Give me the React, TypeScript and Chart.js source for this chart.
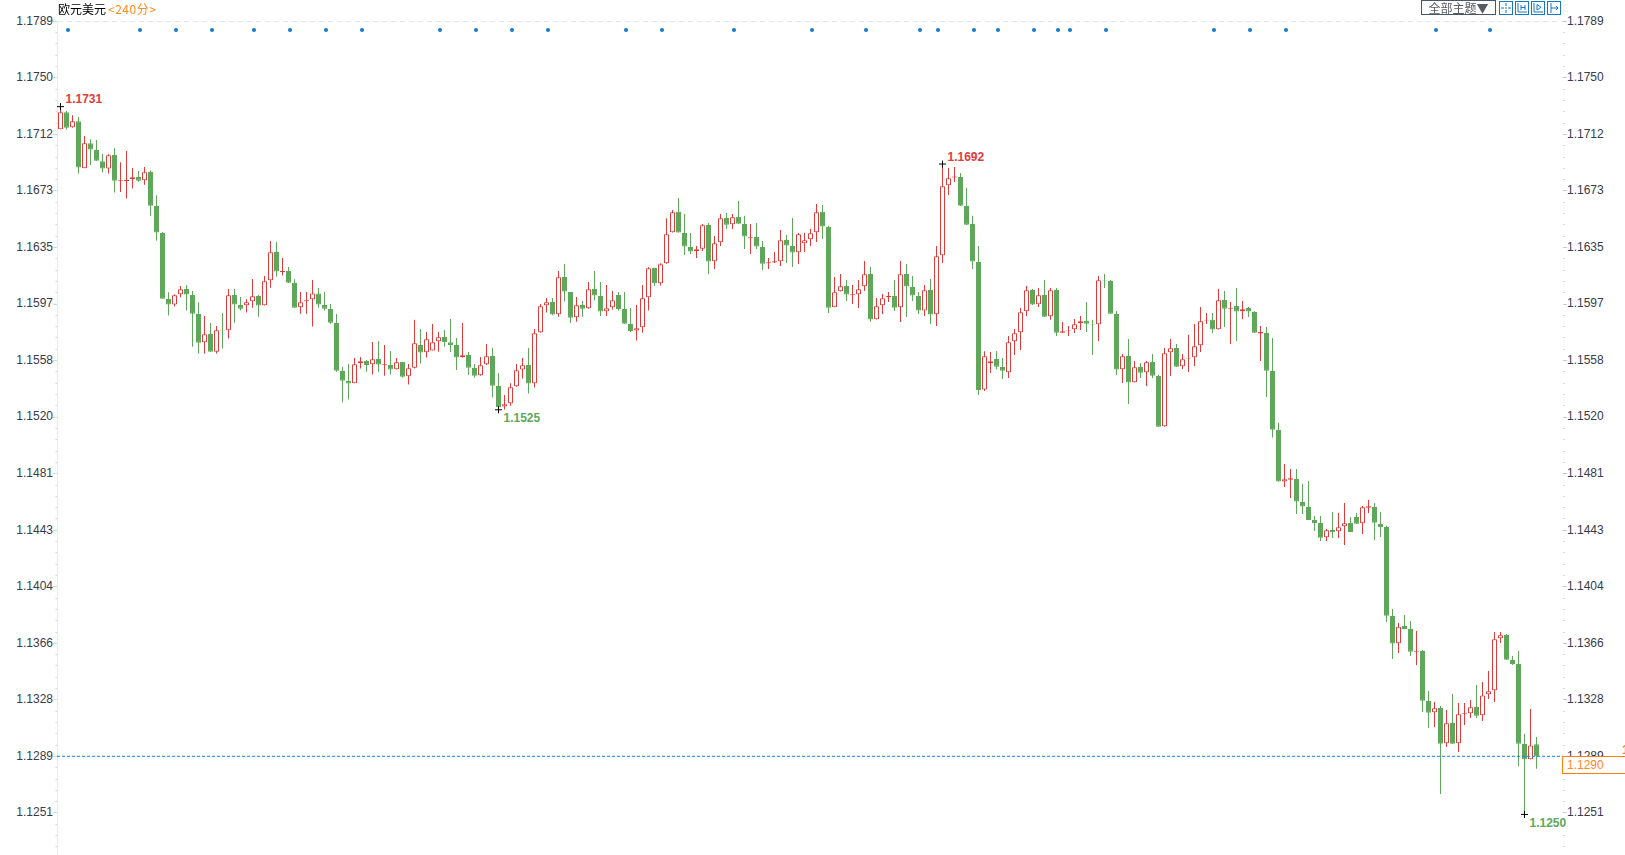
import React, { useEffect, useRef } from "react";
import { Chart, registerables } from "chart.js";

Chart.register(...registerables);

const OPENS = [
  1.17156,1.17272,1.17170,1.17210,1.16891,1.17061,1.17015,1.16939,1.16889,1.16982,
  1.16803,1.16805,1.16816,1.16832,1.16810,1.16866,1.16635,1.16452,1.16003,1.15965,
  1.16035,1.16071,1.16030,1.15901,1.15709,1.15765,1.15645,1.15792,1.15790,1.16030,
  1.15962,1.15960,1.15987,1.16023,1.15960,1.16130,1.16322,1.16187,1.16193,1.16112,
  1.15946,1.15987,1.16001,1.16041,1.15962,1.15935,1.15840,1.15514,1.15446,1.15430,
  1.15566,1.15582,1.15559,1.15595,1.15552,1.15555,1.15525,1.15575,1.15477,1.15536,
  1.15690,1.15641,1.15652,1.15715,1.15745,1.15709,1.15690,1.15607,1.15623,1.15534,
  1.15484,1.15559,1.15616,1.15412,1.15272,1.15294,1.15410,1.15523,1.15555,1.15430,
  1.15776,1.15960,1.15983,1.15899,1.16153,1.16051,1.15879,1.15962,1.15940,1.16071,
  1.16023,1.15919,1.15946,1.16030,1.15935,1.15833,1.15788,1.15811,1.16014,1.16214,
  1.16110,1.16246,1.16456,1.16595,1.16452,1.16356,1.16327,1.16345,1.16506,1.16259,
  1.16388,1.16554,1.16511,1.16561,1.16513,1.16415,1.16424,1.16356,1.16246,1.16250,
  1.16259,1.16404,1.16363,1.16320,1.16381,1.16408,1.16456,1.16595,1.16493,1.15946,
  1.16055,1.16091,1.16028,1.16035,1.16089,1.16173,1.15865,1.15960,1.16014,1.16023,
  1.15946,1.16173,1.16085,1.16023,1.15924,1.16064,1.15899,1.16300,1.16776,1.16828,
  1.16832,1.16635,1.16513,1.16255,1.15387,1.15566,1.15595,1.15541,1.15505,1.15715,
  1.15776,1.15919,1.16064,1.15967,1.16030,1.15885,1.16064,1.15774,1.15788,1.15797,
  1.15838,1.15854,1.15833,1.15831,1.16132,1.16125,1.15901,1.15525,1.15616,1.15437,
  1.15541,1.15505,1.15575,1.15480,1.15138,1.15641,1.15670,1.15546,1.15598,1.15607,
  1.15688,1.15856,1.15861,1.15797,1.15996,1.15937,1.15956,1.15919,1.15942,1.15915,
  1.15768,1.15772,1.15514,1.15113,1.14762,1.14775,1.14780,1.14623,1.14589,1.14501,
  1.14481,1.14383,1.14433,1.14424,1.14458,1.14481,1.14522,1.14479,1.14585,1.14589,
  1.14474,1.14454,1.13849,1.13663,1.13781,1.13760,1.13606,1.13611,1.13271,1.13194,
  1.13223,1.12983,1.13121,1.12983,1.13180,1.13187,1.13230,1.13174,1.13316,1.13344,
  1.13697,1.13720,1.13550,1.13523,1.12979,1.12875,1.12977,
];

const CLOSES = [
  1.17272,1.17167,1.17210,1.16896,1.17061,1.17018,1.16943,1.16889,1.16979,1.16807,
  1.16810,1.16812,1.16830,1.16807,1.16864,1.16637,1.16454,1.16005,1.15965,1.16028,
  1.16069,1.16033,1.15903,1.15706,1.15763,1.15645,1.15790,1.15788,1.16028,1.15965,
  1.15937,1.15980,1.16021,1.15958,1.16123,1.16320,1.16189,1.16193,1.16114,1.15944,
  1.15980,1.15994,1.16041,1.15965,1.15937,1.15842,1.15516,1.15448,1.15428,1.15559,
  1.15580,1.15555,1.15593,1.15557,1.15559,1.15523,1.15573,1.15475,1.15532,1.15702,
  1.15639,1.15729,1.15709,1.15743,1.15711,1.15690,1.15605,1.15620,1.15536,1.15482,
  1.15552,1.15614,1.15414,1.15269,1.15287,1.15403,1.15518,1.15552,1.15428,1.15770,
  1.15953,1.15980,1.15897,1.16150,1.16053,1.15876,1.15960,1.15937,1.16069,1.16026,
  1.15917,1.15940,1.15994,1.15935,1.15835,1.15786,1.15804,1.16008,1.16211,1.16110,
  1.16239,1.16443,1.16593,1.16454,1.16359,1.16325,1.16341,1.16504,1.16257,1.16381,
  1.16551,1.16508,1.16558,1.16515,1.16427,1.16422,1.16359,1.16243,1.16252,1.16259,
  1.16402,1.16366,1.16318,1.16443,1.16402,1.16449,1.16593,1.16495,1.15944,1.16048,
  1.16089,1.16033,1.16035,1.16069,1.16171,1.15863,1.15953,1.16008,1.16023,1.15944,
  1.16171,1.16087,1.16026,1.15924,1.16062,1.15897,1.16293,1.16769,1.16824,1.16835,
  1.16637,1.16508,1.16257,1.15385,1.15614,1.15580,1.15543,1.15516,1.15709,1.15770,
  1.15913,1.16062,1.15965,1.16028,1.15883,1.16062,1.15774,1.15783,1.15792,1.15831,
  1.15851,1.15835,1.15829,1.16130,1.16128,1.15903,1.15523,1.15614,1.15435,1.15539,
  1.15502,1.15573,1.15482,1.15135,1.15634,1.15668,1.15543,1.15593,1.15602,1.15681,
  1.15851,1.15861,1.15795,1.15994,1.15937,1.15942,1.15917,1.15933,1.15917,1.15774,
  1.15779,1.15516,1.15115,1.14762,1.14778,1.14784,1.14626,1.14592,1.14501,1.14481,
  1.14381,1.14431,1.14419,1.14451,1.14479,1.14419,1.14476,1.14587,1.14594,1.14483,
  1.14454,1.13851,1.13661,1.13776,1.13760,1.13606,1.13611,1.13273,1.13191,1.13221,
  1.12981,1.13119,1.12981,1.13180,1.13187,1.13228,1.13171,1.13309,1.13337,1.13690,
  1.13717,1.13552,1.13523,1.12981,1.12875,1.12968,1.12895,
];

const HIGHS = [
  1.17310,1.17281,1.17251,1.17240,1.17111,1.17088,1.17084,1.16989,1.16986,1.17027,
  1.16932,1.17009,1.16893,1.16873,1.16900,1.16878,1.16708,1.16458,1.16048,1.16035,
  1.16091,1.16098,1.16058,1.15980,1.15888,1.15840,1.15820,1.15908,1.16071,1.16071,
  1.16017,1.16001,1.16139,1.16030,1.16159,1.16397,1.16390,1.16282,1.16220,1.16137,
  1.16051,1.16051,1.16132,1.16078,1.16051,1.15969,1.15901,1.15541,1.15561,1.15602,
  1.15609,1.15589,1.15711,1.15718,1.15690,1.15650,1.15602,1.15575,1.15561,1.15861,
  1.15799,1.15779,1.15833,1.15779,1.15792,1.15867,1.15738,1.15840,1.15643,1.15561,
  1.15609,1.15697,1.15670,1.15500,1.15351,1.15430,1.15561,1.15602,1.15670,1.15799,
  1.15969,1.16010,1.16010,1.16193,1.16241,1.16051,1.16017,1.15990,1.16119,1.16193,
  1.16119,1.16098,1.16058,1.16051,1.16051,1.15942,1.15962,1.16098,1.16218,1.16214,
  1.16246,1.16551,1.16608,1.16690,1.16581,1.16452,1.16363,1.16513,1.16520,1.16431,
  1.16581,1.16588,1.16581,1.16669,1.16568,1.16513,1.16520,1.16397,1.16282,1.16322,
  1.16472,1.16438,1.16554,1.16452,1.16452,1.16479,1.16649,1.16642,1.16500,1.16153,
  1.16173,1.16132,1.16098,1.16132,1.16261,1.16220,1.16010,1.16037,1.16051,1.16132,
  1.16261,1.16241,1.16159,1.16051,1.16098,1.16139,1.16363,1.16920,1.16893,1.16900,
  1.16859,1.16758,1.16568,1.16363,1.15648,1.15643,1.15650,1.15602,1.15752,1.15799,
  1.15942,1.16091,1.16071,1.16078,1.16132,1.16078,1.16078,1.15847,1.15820,1.15867,
  1.15888,1.15983,1.15861,1.16159,1.16173,1.16132,1.15922,1.15629,1.15731,1.15582,
  1.15568,1.15582,1.15629,1.15486,1.15670,1.15731,1.15697,1.15629,1.15759,1.15833,
  1.15949,1.15908,1.15908,1.16071,1.16058,1.15983,1.16078,1.15990,1.15949,1.15922,
  1.15820,1.15813,1.15738,1.15160,1.14882,1.14848,1.14848,1.14746,1.14766,1.14528,
  1.14528,1.14440,1.14556,1.14549,1.14617,1.14522,1.14549,1.14596,1.14637,1.14617,
  1.14556,1.14461,1.13896,1.13801,1.13855,1.13815,1.13747,1.13618,1.13339,1.13264,
  1.13237,1.13210,1.13319,1.13257,1.13257,1.13278,1.13380,1.13400,1.13475,1.13740,
  1.13740,1.13726,1.13577,1.13611,1.13047,1.13217,1.13026,
];

const LOWS = [
  1.17156,1.17154,1.17167,1.16855,1.16891,1.16914,1.16943,1.16862,1.16855,1.16726,
  1.16730,1.16685,1.16753,1.16800,1.16780,1.16569,1.16400,1.16005,1.15890,1.15951,
  1.16014,1.15924,1.15679,1.15632,1.15632,1.15645,1.15632,1.15666,1.15734,1.15842,
  1.15924,1.15911,1.15944,1.15883,1.15958,1.16080,1.16155,1.16162,1.16112,1.15944,
  1.15903,1.15903,1.15816,1.15944,1.15924,1.15835,1.15509,1.15299,1.15319,1.15430,
  1.15530,1.15509,1.15489,1.15509,1.15482,1.15489,1.15523,1.15468,1.15421,1.15530,
  1.15564,1.15605,1.15652,1.15645,1.15679,1.15643,1.15521,1.15605,1.15486,1.15468,
  1.15482,1.15555,1.15333,1.15250,1.15252,1.15278,1.15407,1.15462,1.15360,1.15401,
  1.15774,1.15911,1.15892,1.15883,1.15985,1.15840,1.15849,1.15883,1.15937,1.15992,
  1.15888,1.15888,1.15931,1.15924,1.15835,1.15779,1.15720,1.15774,1.15924,1.16091,
  1.16094,1.16243,1.16454,1.16454,1.16302,1.16309,1.16282,1.16329,1.16173,1.16207,
  1.16363,1.16479,1.16479,1.16515,1.16343,1.16309,1.16343,1.16200,1.16207,1.16248,
  1.16227,1.16248,1.16220,1.16241,1.16322,1.16363,1.16390,1.16411,1.15908,1.15946,
  1.16053,1.15990,1.15969,1.15942,1.16058,1.15849,1.15863,1.15901,1.15983,1.15922,
  1.15847,1.15881,1.15990,1.15901,1.15888,1.15833,1.15820,1.16248,1.16710,1.16798,
  1.16635,1.16506,1.16207,1.15351,1.15378,1.15500,1.15523,1.15459,1.15466,1.15623,
  1.15657,1.15888,1.15962,1.15949,1.15881,1.15861,1.15752,1.15772,1.15752,1.15772,
  1.15792,1.15779,1.15623,1.15718,1.16078,1.15901,1.15486,1.15432,1.15290,1.15435,
  1.15466,1.15412,1.15466,1.15135,1.15135,1.15480,1.15541,1.15527,1.15507,1.15548,
  1.15643,1.15833,1.15772,1.15795,1.15813,1.15697,1.15718,1.15867,1.15881,1.15772,
  1.15582,1.15337,1.15061,1.14762,1.14725,1.14651,1.14542,1.14542,1.14501,1.14426,
  1.14358,1.14358,1.14379,1.14379,1.14331,1.14419,1.14474,1.14406,1.14549,1.14365,
  1.14385,1.13808,1.13557,1.13597,1.13760,1.13577,1.13516,1.13196,1.13087,1.13094,
  1.12639,1.12958,1.12979,1.12925,1.13108,1.13156,1.13156,1.13135,1.13285,1.13264,
  1.13665,1.13550,1.13516,1.12829,1.12500,1.12875,1.12811,
];

const Y_TICK_LABELS = [
  "1.1789","1.1750","1.1712","1.1673","1.1635","1.1597","1.1558","1.1520",
  "1.1481","1.1443","1.1404","1.1366","1.1328","1.1289","1.1251",
];
const Y_MAX = 1.1789;
const Y_MIN = 1.122243;
const Y_TICK_STEP = 0.003843;
const Y_MINOR_PER_MAJOR = 5;

const EVENT_INDEXES = [
  1.25,13.25,19.25,25.25,32.25,38.25,44.25,50.25,63.25,69.25,75.25,81.25,94.25,100.25,112.25,
  125.25,134.25,143.25,146.25,152.25,156.25,162.25,166.25,168.25,174.25,192.25,198.25,204.25,229.25,238.25,
];
const EVENT_LEVEL = 1.17831;

const EXTREME_INDEXES = [0, 147, 73, 244];
const EXTREME_VALUES = [1.1731, 1.1692, 1.1525, 1.125];
const EXTREME_LABELS = ["1.1731", "1.1692", "1.1525", "1.1250"];
const EXTREME_IS_HIGH = [true, true, false, false];

const LAST_PRICE = 1.12895;
const LAST_PRICE_LABEL = "1.1290";
const TITLE_NAME = "欧元美元";
const TITLE_PERIOD = "<240分>";
const THEME_BUTTON = "全部主题▼";

const RED = "#e03b3b";
const GREEN = "#5fa75b";
const BLUE = "#1479c9";
const ORANGE = "#ff7f0e";
const X_MIN = -0.58333;
const X_MAX = 250.41667;
const LEFT_W = 57;
const RIGHT_W = 62;

function buildTicks() {
  const out: { value: number }[] = [];
  const minor = Y_TICK_STEP / Y_MINOR_PER_MAJOR;
  for (let k = 0; Y_MAX - k * minor >= Y_MIN; k++) out.push({ value: Y_MAX - k * minor });
  return out;
}
const labelFor = (_v: unknown, i: number) =>
  i % Y_MINOR_PER_MAJOR === 0 ? Y_TICK_LABELS[i / Y_MINOR_PER_MAJOR] ?? "" : "";

const whiteBackgroundPlugin = {
  id: "whiteBackground",
  beforeDraw(chart: any) {
    chart.ctx.save();
    chart.ctx.fillStyle = "#ffffff";
    chart.ctx.fillRect(0, 0, chart.width, chart.height);
    chart.ctx.restore();
  },
};

const axisTickPlugin = {
  id: "axisTicks",
  beforeDatasetsDraw(chart: any) {
    const ctx = chart.ctx;
    const sides = [
      { s: chart.scales.y, dir: -1, color: "#cbdbe6" },
      { s: chart.scales.yRight, dir: 1, color: "#c9c9c9" },
    ];
    ctx.save();
    ctx.lineWidth = 1;
    for (const { s, dir, color } of sides) {
      const x0 = dir < 0 ? chart.chartArea.left : chart.chartArea.right;
      ctx.strokeStyle = color;
      s.ticks.forEach((t: any, i: number) => {
        const y = Math.floor(s.getPixelForValue(t.value)) + 0.5;
        const major = i % Y_MINOR_PER_MAJOR === 0 && i / Y_MINOR_PER_MAJOR < Y_TICK_LABELS.length;
        ctx.beginPath();
        ctx.moveTo(x0, y);
        ctx.lineTo(x0 + dir * (major ? 4 : 1.5), y);
        ctx.stroke();
      });
    }
    ctx.restore();
  },
};

const extremeLabelPlugin = {
  id: "extremeLabels",
  afterDatasetsDraw(chart: any) {
    const ctx = chart.ctx;
    ctx.save();
    ctx.font = 'bold 12px "Liberation Sans"';
    ctx.textAlign = "left";
    ctx.textBaseline = "middle";
    EXTREME_INDEXES.forEach((idx, k) => {
      const x = chart.scales.x.getPixelForValue(idx);
      const y = chart.scales.y.getPixelForValue(EXTREME_VALUES[k]);
      ctx.fillStyle = EXTREME_IS_HIGH[k] ? RED : "#5ea85a";
      ctx.fillText(EXTREME_LABELS[k], x + 5, y + (EXTREME_IS_HIGH[k] ? -6.5 : 9));
    });
    ctx.restore();
  },
};

function Icon({ left, d }: { left: number; d: string }) {
  return (
    <svg
      width="14"
      height="14"
      viewBox="0 0 14 14"
      style={{ position: "absolute", left, top: 1, display: "block" }}
    >
      <rect x="0.5" y="0.5" width="13" height="13" fill="#fff" stroke={BLUE} />
      <path d={d} fill="none" stroke={BLUE} strokeWidth="1" />
    </svg>
  );
}

export default function App() {
  const ref = useRef<HTMLCanvasElement | null>(null);

  useEffect(() => {
    if (!ref.current) return;
    ref.current.getContext("2d", { alpha: false });
    const wicks = OPENS.map((_, i) => ({ x: i, y: [LOWS[i], HIGHS[i]] }));
    const bodies = OPENS.map((o, i) => ({ x: i, y: [Math.min(o, CLOSES[i]), Math.max(o, CLOSES[i])] }));
    const isUp = OPENS.map((o, i) => CLOSES[i] >= o);
    const chart = new Chart(ref.current, {
      type: "bar",
      data: {
        datasets: [
          {
            type: "scatter",
            label: "events",
            data: EVENT_INDEXES.map((x) => ({ x, y: EVENT_LEVEL })),
            pointStyle: "circle",
            pointRadius: 2,
            pointBackgroundColor: BLUE,
            pointBorderWidth: 0,
            order: 0,
          },
          {
            type: "scatter",
            label: "extremes",
            data: EXTREME_INDEXES.map((x, k) => ({ x, y: EXTREME_VALUES[k] })),
            pointStyle: "cross",
            pointRadius: 3.5,
            pointBorderColor: "#000",
            pointBorderWidth: 1,
            order: 0,
          },
          {
            type: "line",
            label: "last",
            data: [
              { x: X_MIN, y: LAST_PRICE },
              { x: X_MAX, y: LAST_PRICE },
            ],
            borderColor: "#0a84ff",
            borderWidth: 1,
            borderDash: [3, 2],
            pointRadius: 0,
            order: 1,
          },
          {
            label: "body",
            data: bodies,
            grouped: false,
            barPercentage: 1,
            categoryPercentage: 1,
            maxBarThickness: 5,
            inflateAmount: 0,
            borderSkipped: false,
            borderWidth: 1,
            borderColor: isUp.map((u) => (u ? RED : GREEN)),
            backgroundColor: isUp.map((u) => (u ? "#ffffff" : GREEN)),
            order: 2,
          },
          {
            label: "wick",
            data: wicks,
            grouped: false,
            barPercentage: 1,
            categoryPercentage: 1,
            maxBarThickness: 1,
            inflateAmount: 0,
            borderWidth: 0,
            borderSkipped: false,
            backgroundColor: isUp.map((u) => (u ? RED : GREEN)),
            order: 3,
          },
        ] as any,
      },
      options: {
        responsive: false,
        animation: false,
        devicePixelRatio: 1,
        layout: { autoPadding: false, padding: { top: 21.3, left: 0, right: 0, bottom: 0 } },
        plugins: { legend: { display: false }, tooltip: { enabled: false }, title: { display: false } },
        events: [],
        scales: {
          x: { type: "linear", min: X_MIN, max: X_MAX, display: false, offset: false },
          y: {
            type: "linear",
            position: "left",
            min: Y_MIN,
            max: Y_MAX,
            afterFit: (s: any) => {
              s.width = LEFT_W;
              s.paddingTop = 0;
              s.paddingBottom = 0;
            },
            afterBuildTicks: (s: any) => {
              s.ticks = buildTicks();
            },
            border: { display: true, color: "#e2ecf3", width: 1, dash: [5, 4] },
            grid: {
              drawTicks: false,
              drawOnChartArea: true,
              color: (c: any) => (c.index === 0 ? "#e8e8e8" : "rgba(0,0,0,0)"),
            },
            ticks: {
              autoSkip: false,
              maxRotation: 0,
              padding: 4,
              color: "#363b4d",
              font: { family: '"Liberation Sans"', size: 12 },
              callback: labelFor,
            },
          },
          yRight: {
            type: "linear",
            position: "right",
            display: true,
            min: Y_MIN,
            max: Y_MAX,
            afterFit: (s: any) => {
              s.width = RIGHT_W;
              s.paddingTop = 0;
              s.paddingBottom = 0;
            },
            afterBuildTicks: (s: any) => {
              s.ticks = buildTicks();
            },
            border: { display: false },
            grid: { drawTicks: false, drawOnChartArea: false },
            ticks: {
              autoSkip: false,
              maxRotation: 0,
              padding: 4,
              color: "#363b4d",
              font: { family: '"Liberation Sans"', size: 12 },
              callback: labelFor,
            },
          },
        },
      } as any,
      plugins: [whiteBackgroundPlugin, axisTickPlugin, extremeLabelPlugin] as any,
    });
    return () => chart.destroy();
  }, []);

  return (
    <div style={{ position: "absolute", left: 0, top: 0, width: 1625, height: 855, overflow: "hidden", background: "#fff" }}>
      <canvas ref={ref} width={1625} height={855} style={{ display: "block", width: 1625, height: 855 }} />
      <div
        style={{
          position: "absolute",
          left: 58,
          top: 0,
          height: 18,
          lineHeight: "18px",
          fontSize: 12,
          fontFamily: '"Noto Sans CJK SC"',
          color: "#000",
          whiteSpace: "nowrap",
        }}
      >
        {TITLE_NAME}
        <span style={{ color: "#ff8a1c", letterSpacing: 0.5, marginLeft: 2 }}>{TITLE_PERIOD}</span>
      </div>
      <div
        style={{
          position: "absolute",
          left: 1421,
          top: 0,
          width: 75,
          height: 15,
          boxSizing: "border-box",
          border: "1px solid #4a5568",
          fontFamily: '"Noto Sans CJK SC"',
          fontSize: 12,
          lineHeight: "13px",
          color: "#555b66",
          textAlign: "center",
          whiteSpace: "nowrap",
          background: "#fff",
        }}
      >
        {THEME_BUTTON}
      </div>
      <Icon left={1499} d="M7 2V5M7 9V12M2 7H5M9 7H12M6 7H8" />
      <Icon left={1515} d="M3 2V11H12M6 4V9M10 4V9M6 6.5H10" />
      <Icon left={1531} d="M3 2V11H12M6 3.5V9L10 6.25Z" />
      <Icon left={1547} d="M4 2V12M4 7H11M9 5L11 7L9 9" />
      <div
        style={{
          position: "absolute",
          left: 1622,
          top: 745,
          width: 3,
          height: 11,
          overflow: "hidden",
          color: ORANGE,
          fontFamily: '"Liberation Sans"',
          fontSize: 12,
          lineHeight: "11px",
          fontWeight: "bold",
        }}
      >
        1
      </div>
      <div
        style={{
          position: "absolute",
          left: 1562,
          top: 756,
          width: 63,
          height: 18,
          boxSizing: "border-box",
          borderLeft: `1px solid ${ORANGE}`,
          borderTop: `1px solid ${ORANGE}`,
          borderBottom: `1px solid ${ORANGE}`,
          background: "#fff",
          color: "#ff8a1c",
          fontFamily: '"Liberation Sans"',
          fontSize: 12,
          lineHeight: "16px",
          paddingLeft: 4,
        }}
      >
        {LAST_PRICE_LABEL}
      </div>
    </div>
  );
}
